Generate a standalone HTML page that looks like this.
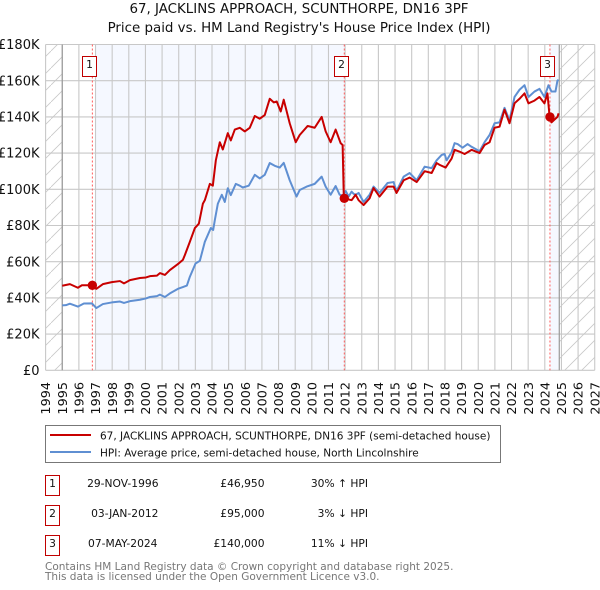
<!DOCTYPE html>
<html>
<head>
<meta charset="utf-8">
<title>67, JACKLINS APPROACH, SCUNTHORPE, DN16 3PF</title>
<style>
html,body{margin:0;padding:0;background:#fff;width:600px;height:590px;overflow:hidden}
svg{display:block}
text{font-family:"DejaVu Sans","Liberation Sans",sans-serif;fill:#111}
</style>
</head>
<body>
<svg id="chart" xmlns="http://www.w3.org/2000/svg" width="600" height="590" viewBox="0 0 600 590">
  <defs>
    <pattern id="hatch" width="17" height="17" patternUnits="userSpaceOnUse">
      <path d="M-1 18 L18 -1" stroke="#c8c8c8" stroke-width="0.8" fill="none"/>
    </pattern>
  </defs>
  <text x="299" y="13" text-anchor="middle" font-size="13.4">67, JACKLINS APPROACH, SCUNTHORPE, DN16 3PF</text>
  <text x="299" y="32" text-anchor="middle" font-size="13.4">Price paid vs. HM Land Registry's House Price Index (HPI)</text>
  <g id="plot"></g>

  <g>
    <rect x="45.5" y="425.5" width="455" height="37" fill="#fff" stroke="#777" stroke-width="1"/>
    <line x1="50" x2="91" y1="435" y2="435" stroke="#c80000" stroke-width="2"/>
    <text x="100" y="439.5" font-size="10.5">67, JACKLINS APPROACH, SCUNTHORPE, DN16 3PF (semi-detached house)</text>
    <line x1="50" x2="91" y1="452" y2="452" stroke="#5f8fd2" stroke-width="2"/>
    <text x="100" y="456.5" font-size="10.5">HPI: Average price, semi-detached house, North Lincolnshire</text>
  </g>

  <g font-size="10.7">
    <rect x="45.5" y="475.5" width="14" height="20" fill="#fff" stroke="#c00000"/>
    <text x="52.5" y="487" text-anchor="middle">1</text>
    <text x="158.5" y="487" text-anchor="end">29-NOV-1996</text>
    <text x="264.5" y="487" text-anchor="end">£46,950</text>
    <text x="368" y="487" text-anchor="end">30% ↑ HPI</text>

    <rect x="45.5" y="505.5" width="14" height="20" fill="#fff" stroke="#c00000"/>
    <text x="52.5" y="517" text-anchor="middle">2</text>
    <text x="158.5" y="517" text-anchor="end">03-JAN-2012</text>
    <text x="264.5" y="517" text-anchor="end">£95,000</text>
    <text x="368" y="517" text-anchor="end">3% ↓ HPI</text>

    <rect x="45.5" y="535.5" width="14" height="20" fill="#fff" stroke="#c00000"/>
    <text x="52.5" y="547" text-anchor="middle">3</text>
    <text x="157.5" y="547" text-anchor="end">07-MAY-2024</text>
    <text x="264.5" y="547" text-anchor="end">£140,000</text>
    <text x="368" y="547" text-anchor="end">11% ↓ HPI</text>
  </g>

  <text x="45" y="570" font-size="10.5" style="fill:#777">Contains HM Land Registry data © Crown copyright and database right 2025.</text>
  <text x="45" y="580" font-size="10.5" style="fill:#777">This data is licensed under the Open Government Licence v3.0.</text>
</svg>
<script>
const yearTicks = [1994,1995,1996,1997,1998,1999,2000,2001,2002,2003,2004,2005,2006,2007,2008,2009,2010,2011,2012,2013,2014,2015,2016,2017,2018,2019,2020,2021,2022,2023,2024,2025,2026,2027];
const priceTicks = [0,20,40,60,80,100,120,140,160,180];
const priceTickLabels = ['£0','£20K','£40K','£60K','£80K','£100K','£120K','£140K','£160K','£180K'];

const hpiDates = [1995.00,1995.22,1995.46,1995.94,1996.30,1996.78,1997.05,1997.44,1997.98,1998.47,1998.71,1999.07,1999.67,2000.03,2000.27,2000.69,2000.87,2001.17,2001.47,2001.95,2002.25,2002.49,2002.67,2003.01,2003.27,2003.57,2003.93,2004.07,2004.17,2004.35,2004.59,2004.77,2004.95,2005.13,2005.43,2005.67,2005.85,2006.21,2006.57,2006.87,2007.17,2007.47,2007.77,2008.07,2008.31,2008.67,2009.08,2009.27,2009.69,2010.17,2010.59,2010.83,2011.13,2011.43,2011.67,2011.85,2012.04,2012.21,2012.39,2012.51,2012.63,2012.81,2013.11,2013.47,2013.71,2014.07,2014.55,2014.91,2015.09,2015.52,2015.88,2016.30,2016.78,2017.20,2017.50,2017.80,2017.98,2018.10,2018.40,2018.58,2018.76,2019.06,2019.36,2019.60,2020.08,2020.38,2020.68,2020.98,2021.28,2021.58,2021.88,2022.18,2022.48,2022.78,2023.02,2023.38,2023.68,2023.98,2024.22,2024.40,2024.64,2024.76,2024.83];
const hpiValues = [35.9,36.0,36.8,35.2,36.9,37.0,34.4,36.6,37.5,38.0,37.2,38.2,39.0,39.7,40.5,41.0,41.8,40.5,42.5,45.0,46.0,46.8,51.7,59.0,60.5,71.0,78.6,77.5,83.0,92.0,97.0,93.0,100.6,96.8,103.0,102.0,101.0,102.0,108.0,106.0,108.0,114.5,113.0,112.0,114.6,105.0,96.0,99.6,101.5,103.0,107.0,101.5,97.0,101.8,97.0,96.5,99.0,96.0,98.7,97.5,97.0,98.0,93.0,97.0,101.5,98.0,103.5,104.0,99.0,107.0,109.0,105.0,112.5,111.7,116.0,119.0,119.5,116.0,120.5,125.5,125.0,123.0,125.0,123.5,121.0,126.0,130.0,136.5,137.0,145.0,138.0,151.0,155.0,157.5,151.0,154.0,155.5,151.0,157.5,154.0,154.0,160.0,160.5];

const paidDates = [1995.00,1995.46,1995.94,1996.18,1996.66,1996.81,1997.05,1997.44,1997.98,1998.47,1998.71,1999.07,1999.67,2000.03,2000.27,2000.69,2000.87,2001.17,2001.47,2001.95,2002.25,2002.37,2002.67,2002.97,2003.21,2003.45,2003.57,2003.87,2004.05,2004.23,2004.47,2004.65,2004.95,2005.13,2005.37,2005.67,2005.97,2006.27,2006.57,2006.87,2007.17,2007.47,2007.71,2007.89,2008.13,2008.31,2008.67,2009.03,2009.27,2009.75,2010.17,2010.59,2010.83,2011.13,2011.43,2011.73,2011.85,2011.92,2011.95,2012.39,2012.63,2012.81,2013.11,2013.47,2013.71,2014.07,2014.55,2014.91,2015.09,2015.52,2015.88,2016.30,2016.78,2017.20,2017.50,2017.68,2018.04,2018.40,2018.58,2018.88,2019.18,2019.60,2020.08,2020.38,2020.68,2020.98,2021.28,2021.58,2021.88,2022.18,2022.48,2022.78,2023.02,2023.38,2023.68,2023.98,2024.16,2024.28,2024.31,2024.40,2024.58,2024.76,2024.83];
const paidValues = [46.7,47.6,45.6,47.0,47.0,47.0,45.0,47.6,48.7,49.3,48.0,49.8,51.0,51.3,52.0,52.3,53.7,52.7,55.4,58.7,61.0,63.7,71.0,78.6,81.0,92.0,94.0,103.0,102.0,116.0,126.0,122.0,131.0,127.0,133.0,134.0,132.0,134.0,140.5,139.0,141.0,150.0,148.0,148.5,143.0,149.5,136.5,126.0,130.0,135.0,134.0,140.0,132.0,126.0,133.0,125.5,124.5,96.0,95.0,94.0,97.0,94.0,91.3,95.0,100.7,96.0,101.5,101.5,98.0,105.0,106.5,104.0,110.0,109.0,114.5,113.5,112.0,117.0,121.8,120.8,119.5,121.8,120.0,124.5,126.0,134.0,134.6,144.0,136.5,147.5,150.0,153.0,147.5,149.0,151.0,147.5,153.0,141.0,140.0,137.0,138.5,140.0,142.0];

const saleDates = [1996.81,2011.95,2024.31];
const salePrices = [46.95,95.0,140.0];
const saleLabels = ['1','2','3'];

const xAxis = year => 45.6 + (year - 1994) * 16.64;
const yAxis = k => 370.3 - k * 1.81;
const NS = 'http://www.w3.org/2000/svg';
const plot = document.getElementById('plot');
function make(tag, attrs, parent) {
  const el = document.createElementNS(NS, tag);
  for (const k in attrs) el.setAttribute(k, attrs[k]);
  (parent || plot).appendChild(el);
  return el;
}
const left = xAxis(1994), right = xAxis(2027), top_ = yAxis(180), bottom = yAxis(0);
const lastData = 2024.87;

const hatchL = make('rect', {x:left, y:top_, width:xAxis(1995)-left, height:bottom-top_, fill:'url(#hatch)'});


const hatchR = make('rect', {x:xAxis(lastData), y:top_, width:right-xAxis(lastData), height:bottom-top_, fill:'url(#hatch)'});



const band1 = make('rect', {x:xAxis(1997), y:top_, width:xAxis(saleDates[1])-xAxis(1997), height:bottom-top_, fill:'#f5f8ff'});


const band2 = make('rect', {x:xAxis(saleDates[2]), y:top_, width:xAxis(lastData)-xAxis(saleDates[2]), height:bottom-top_, fill:'#f5f8ff'});



yearTicks.forEach(yr => {
  const x = xAxis(yr);
  const g = make('line', {x1:x, x2:x, y1:top_, y2:bottom, stroke:'#c8c8c8', 'stroke-width':1.1});
  
  
  const t = make('text', {transform:`translate(${x+4.6},382) rotate(-90)`, 'text-anchor':'end', 'font-size':12.8});
  
  
  t.textContent = yr;
});
priceTicks.forEach((v, i) => {
  const y = yAxis(v);
  const g = make('line', {x1:left, x2:right, y1:y, y2:y, stroke:'#c8c8c8', 'stroke-width':1.1});
  
  
  const t = make('text', {x:39.5, y:y+4.6, 'text-anchor':'end', 'font-size':13});
  
  
  t.textContent = priceTickLabels[i];
});

[1995, lastData].forEach(yr => {
  const b = make('line', {x1:xAxis(yr), x2:xAxis(yr), y1:top_, y2:bottom, stroke:'#999', 'stroke-width':1.2});
  
  
});

saleDates.forEach(d => {
  const l = make('line', {x1:xAxis(d), x2:xAxis(d), y1:top_, y2:bottom, stroke:'#ff5a5a', 'stroke-width':1, 'stroke-dasharray':'2 2'});
  
  
});

const toPath = (ds, vs) => ds.map((d, i) => (i ? 'L' : 'M') + xAxis(d).toFixed(2) + ' ' + yAxis(vs[i]).toFixed(2)).join(' ');
const hpiLine = make('path', {d:toPath(hpiDates, hpiValues), fill:'none', stroke:'#5f8fd2', 'stroke-width':2, 'stroke-linejoin':'round'});


const paidLine = make('path', {d:toPath(paidDates, paidValues), fill:'none', stroke:'#c80000', 'stroke-width':2, 'stroke-linejoin':'round'});



saleDates.forEach((d, i) => {
  const m = make('circle', {cx:xAxis(d), cy:yAxis(salePrices[i]), r:4.7, fill:'#c80000'});
  
  
  const x = Math.round(xAxis(d) - 10) + 0.5;
  const box = make('rect', {x:x, y:56.5, width:14, height:20, fill:'#fff', stroke:'#c00000', 'stroke-width':1});
  
  
  const t = make('text', {x:x+7, y:68, 'text-anchor':'middle', 'font-size':10.7});
  
  
  t.textContent = saleLabels[i];
});
</script>
</body>
</html>
